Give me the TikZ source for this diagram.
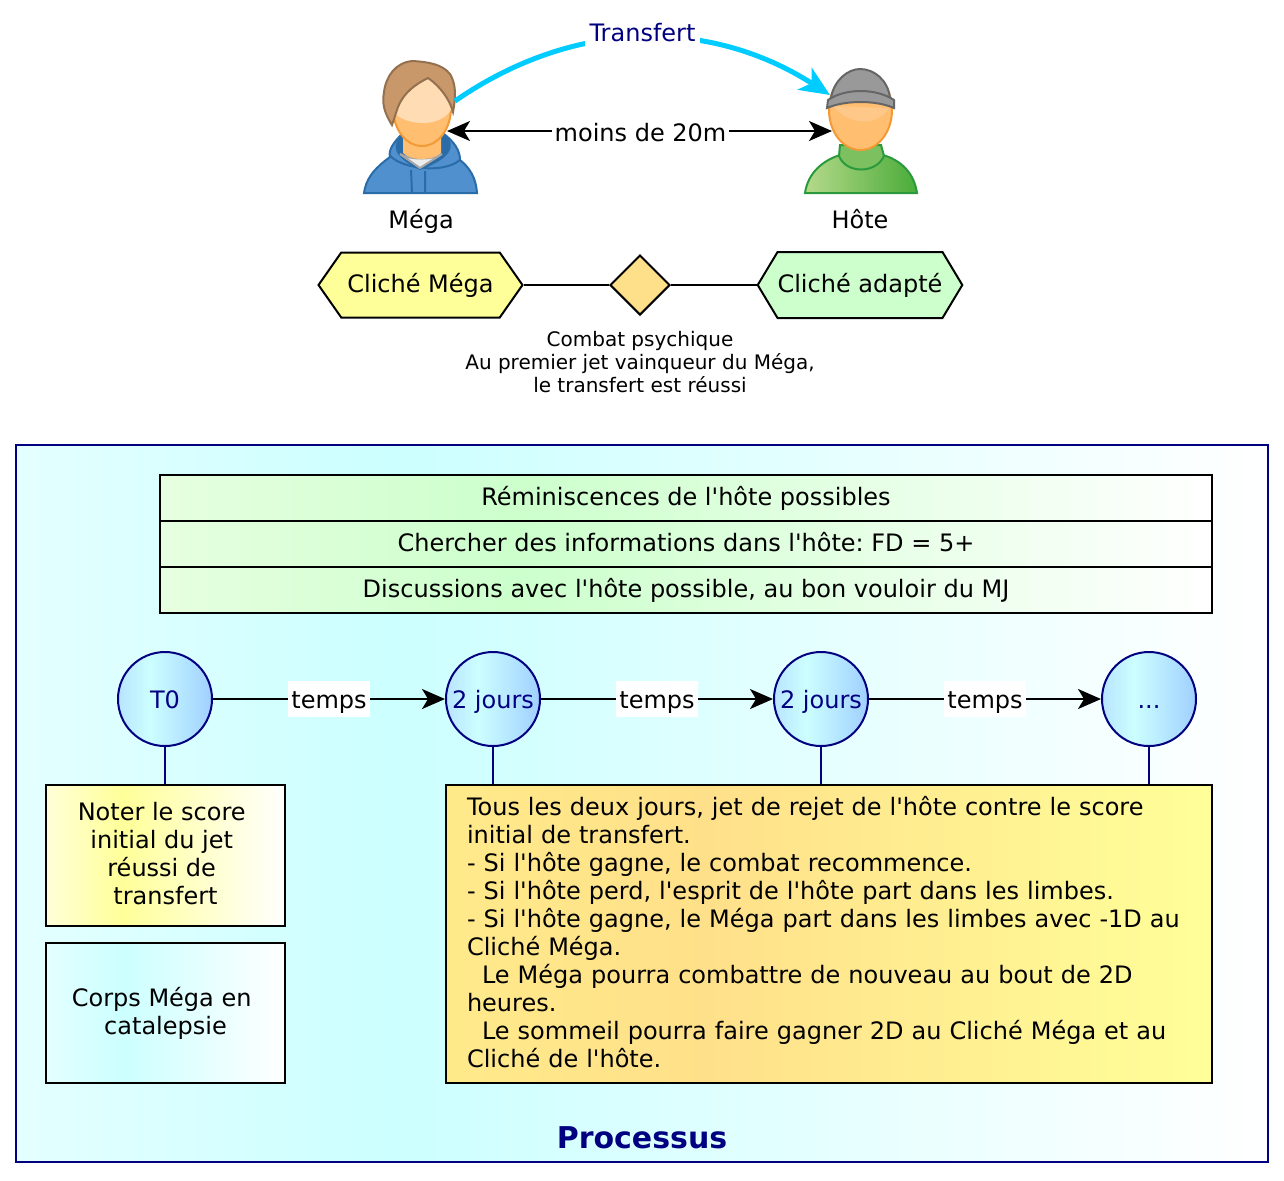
\documentclass[tikz,border=0pt]{standalone}
\usepackage{fontspec}
\setmainfont{DejaVu Sans}[Ligatures=TeXOff]
\frenchspacing
\usetikzlibrary{shapes.geometric, shapes.symbols, arrows.meta, positioning, calc}

\definecolor{navybleu}{HTML}{000080}
\definecolor{cyantrait}{HTML}{00CCFF}
\definecolor{fondcyan}{HTML}{CCFFFF}
\definecolor{fondclair}{HTML}{E4FFFF}
\definecolor{vertclair}{HTML}{CCFFCC}
\definecolor{vertpale}{HTML}{E6FFE0}
\definecolor{jaune}{HTML}{FFFF99}
\definecolor{jaunepale}{HTML}{FFFFD8}
\definecolor{ocre}{HTML}{FFE08A}
\definecolor{ocreclair}{HTML}{FFEA8A}
\definecolor{bleucercle}{HTML}{A0CFFF}
\definecolor{bleupale}{HTML}{B8E4FF}
\definecolor{pull}{HTML}{5090CE}
\definecolor{pullfonce}{HTML}{2A6CA8}
\definecolor{peau}{HTML}{FFBE70}
\definecolor{peauclair}{HTML}{FFDCB4}
\definecolor{peautrait}{HTML}{F29B36}
\definecolor{cheveux}{HTML}{C9986A}
\definecolor{cheveuxtrait}{HTML}{94714E}
\definecolor{vertgauche}{HTML}{B5D98A}
\definecolor{vertdroite}{HTML}{4AAC3A}
\definecolor{vertcol}{HTML}{7CC060}
\definecolor{vertfonce}{HTML}{2A9A3C}
\definecolor{bonnet}{HTML}{999999}
\definecolor{bonnettrait}{HTML}{666666}
\pgfdeclarehorizontalshading{fondprocessus}{100bp}{color(0bp)=(fondclair); color(25bp)=(fondclair); color(40bp)=(fondcyan); color(75bp)=(white); color(100bp)=(white)}
\pgfdeclarehorizontalshading{fondligne}{100bp}{color(0bp)=(vertpale); color(25bp)=(vertpale); color(42bp)=(vertclair); color(75bp)=(white); color(100bp)=(white)}
\pgfdeclarehorizontalshading{fondnote}{100bp}{color(0bp)=(jaunepale); color(25bp)=(jaunepale); color(41bp)=(jaune); color(75bp)=(white); color(100bp)=(white)}
\pgfdeclarehorizontalshading{fondcorps}{100bp}{color(0bp)=(fondclair); color(25bp)=(fondclair); color(41bp)=(fondcyan); color(75bp)=(white); color(100bp)=(white)}
\pgfdeclarehorizontalshading{fondregles}{100bp}{color(0bp)=(ocreclair); color(25bp)=(ocreclair); color(42bp)=(ocre); color(75bp)=(jaune); color(100bp)=(jaune)}
\pgfdeclarehorizontalshading{fondcercle}{100bp}{color(0bp)=(bleupale); color(25bp)=(bleupale); color(42bp)=(fondcyan); color(75bp)=(bleucercle); color(100bp)=(bleucercle)}

\begin{document}
\begin{tikzpicture}[
    x=0.5pt, y=-0.5pt,
    every node/.style={font=\fontsize{12}{14}\selectfont},
    cliche/.style={signal, signal to=west and east, signal pointer angle=110, draw, line width=1pt, minimum width=102pt, minimum height=32.5pt, inner sep=0pt},
    ligne/.style={rectangle, draw, line width=1pt, shade, shading=fondligne, minimum width=526pt, minimum height=23pt, inner sep=0pt, text height=9.5pt, text depth=2.5pt},
    etape/.style={circle, draw=navybleu, line width=1pt, shade, shading=fondcercle, text=navybleu, minimum size=47pt, inner sep=0pt, text height=9.5pt, text depth=0pt},
    boite/.style={rectangle, draw, line width=1pt, minimum width=119.5pt, minimum height=70pt, inner sep=0pt, align=center},
    etiquette/.style={fill=white, inner xsep=1.5pt, inner ysep=0pt, minimum height=18pt, text height=11pt, text depth=1.5pt},
    personne/.style={text height=9.5pt, text depth=2.5pt},
    fleche/.style={-{Stealth[length=11.5pt, width=10pt, inset=3pt]}, line width=1pt},
    lien/.style={draw=navybleu, line width=1pt}
]
    \useasboundingbox (0,0) rectangle (1284,1180);

    \fill[white] (0,0) rectangle (1284,1180);

    % Mega
    \draw[fill=pull, draw=pullfonce, line width=1pt] (364,193) .. controls (366,180) and (372,170) .. (390,157) .. controls (388,150) and (394,142) .. (402,134) -- (444,134) .. controls (454,142) and (460,150) .. (460,160) .. controls (470,168) and (476,178) .. (477,193) -- cycle;
    \fill[pullfonce] (401,135) .. controls (392,146) and (392,156) .. (420,170) .. controls (452,158) and (456,146) .. (446,135) -- cycle;
    \draw[pullfonce, line width=1pt] (390,155) .. controls (396,166) and (440,176) .. (460,160);
    \draw[pullfonce, line width=1pt] (411,170) -- (412,193) (425,171) -- (425,193);
    \draw[fill=black!7, draw=black!35, line width=1pt] (400,154) .. controls (410,160) and (432,160) .. (442,154) -- (420,168) -- cycle;
    \fill[peau] (403,130) -- (403,153) .. controls (412,161) and (432,161) .. (441,153) -- (441,130) -- cycle;
    \draw[fill=peau, draw=peautrait, line width=1pt] (422,108) ellipse [x radius=29, y radius=38];
    \fill[peauclair] (394,112) .. controls (402,124) and (438,130) .. (451,110) -- (446,85) -- (428,76) -- (404,90) -- cycle;
    \draw[fill=cheveux, draw=cheveuxtrait, line width=1pt] (392,125) .. controls (384,112) and (382,104) .. (384,92) .. controls (386,76) and (396,62) .. (413,61) .. controls (428,62) and (442,64) .. (450,74) .. controls (456,84) and (456,96) .. (453,112) .. controls (450,100) and (440,86) .. (428,78) .. controls (416,84) and (404,92) .. (398,107) -- cycle;

    % Hote
    \draw[left color=vertgauche, right color=vertdroite, draw=vertfonce, line width=1pt] (805,193) .. controls (808,172) and (824,160) .. (840,155) -- (883,155) .. controls (900,160) and (914,172) .. (917,193) -- cycle;
    \draw[fill=vertcol, draw=vertfonce, line width=1pt] (840,145) -- (839,156) .. controls (846,174) and (876,174) .. (884,156) -- (881,145) -- cycle;
    \draw[fill=peau, draw=peautrait, line width=1pt] (860.5,110) ellipse [x radius=31.5, y radius=40];
    \fill[peau!65!peauclair] (833,106) .. controls (845,122) and (875,130) .. (889,108) -- cycle;
    \draw[fill=bonnet, draw=bonnettrait, line width=1pt] (831,98) .. controls (834,80) and (848,69) .. (860,69) .. controls (874,69) and (888,80) .. (890,98) -- cycle;
    \draw[fill=bonnet, draw=bonnettrait, line width=1pt] (827,108) -- (828,100) .. controls (845,88) and (876,88) .. (894,100) -- (894,108) .. controls (876,100) and (845,100) .. (827,108) -- cycle;

    \coordinate (megaTete) at (447,131);
    \coordinate (hoteTete) at (832,131);
    \coordinate (megaTransfert) at (455,101);
    \coordinate (hoteTransfert) at (830,95);

    \draw[-{Stealth[length=15pt, width=13pt, inset=4pt]}, cyantrait, line width=2.5pt] (megaTransfert) .. controls (575,18) and (710,18) .. (hoteTransfert) node[pos=.5, yshift=2.5pt, fill=white, text=navybleu, inner xsep=2.5pt, inner ysep=0pt, minimum height=13pt] (transfert) {Transfert};
    \draw[{Stealth[length=11.5pt, width=10pt, inset=3pt]}-{Stealth[length=11.5pt, width=10pt, inset=3pt]}, line width=1pt] (megaTete) -- node[etiquette, text height=10.3pt, text depth=0pt, xshift=.5pt] (distance) {moins de 20m} (hoteTete);

    \node[personne] (mega) at (421,221) {Méga};
    \node[personne] (hote) at (860,221) {Hôte};

    \node[cliche, fill=jaune] (clicheMega) at (420.5,285) {Cliché Méga};
    \node[diamond, aspect=1, draw, line width=1pt, fill=ocre, minimum size=30pt, inner sep=0pt] (combat) at (640,285) {};
    \node[cliche, fill=vertclair, signal pointer angle=118, minimum height=33pt] (clicheHote) at (860,285) {Cliché adapté};
    \draw[line width=1pt] (clicheMega.east) -- (combat);
    \draw[line width=1pt] (combat) -- (clicheHote.west);
    \node[align=center, font=\fontsize{10}{11.5}\selectfont] (regleCombat) at (640,362) {Combat psychique\\Au premier jet vainqueur du Méga,\\le transfert est réussi};

    % Processus
    \node[rectangle, draw=navybleu, line width=1pt, shade, shading=fondprocessus, minimum width=626pt, minimum height=358.5pt, inner sep=0pt] (processus) at (642,803.5) {};
    \node[text=navybleu, font=\fontsize{15}{17}\selectfont\bfseries] (titre) at (642,1138) {Processus};

    \node[ligne] (reminiscences) at (686,498) {Réminiscences de l'hôte possibles};
    \node[ligne] (informations) at (686,544) {Chercher des informations dans l'hôte: FD = 5+};
    \node[ligne] (discussions) at (686,590) {Discussions avec l'hôte possible, au bon vouloir du MJ};

    \node[etape] (t0) at (165,699) {T0};
    \node[etape] (jourA) at (493,699) {2 jours};
    \node[etape] (jourB) at (821,699) {2 jours};
    \node[etape] (suite) at (1149,699) {...};

    \draw[fleche] (t0) -- node[etiquette] (tempsA) {temps} (jourA);
    \draw[fleche] (jourA) -- node[etiquette] (tempsB) {temps} (jourB);
    \draw[fleche] (jourB) -- node[etiquette] (tempsC) {temps} (suite);

    \node[boite, shade, shading=fondnote, minimum height=70.5pt, text depth=2pt] (noter) at (165.5,855.5) {Noter le score\kern3.8pt\\initial du jet\kern3.8pt\\réussi de\kern3.8pt\\transfert};
    \node[boite, shade, shading=fondcorps] (corps) at (165.5,1013) {Corps Méga en\kern3.8pt\\catalepsie};
    \node[boite, shade, shading=fondregles, minimum width=383pt, minimum height=149pt, inner xsep=10.5pt, text width=362pt, text depth=128pt, align=left] (regles) at (829,934) {Tous les deux jours, jet de rejet de l'hôte contre le score\\initial de transfert.\\- Si l'hôte gagne, le combat recommence.\\- Si l'hôte perd, l'esprit de l'hôte part dans les limbes.\\- Si l'hôte gagne, le Méga part dans les limbes avec -1D au\\Cliché Méga.\\\hspace*{7.5pt}Le Méga pourra combattre de nouveau au bout de 2D\\heures.\\\hspace*{7.5pt}Le sommeil pourra faire gagner 2D au Cliché Méga et au\\Cliché de l'hôte.};

    \draw[lien] (t0) -- (t0 |- noter.north);
    \draw[lien] (jourA) -- (jourA |- regles.north);
    \draw[lien] (jourB) -- (jourB |- regles.north);
    \draw[lien] (suite) -- (suite |- regles.north);
\end{tikzpicture}
\end{document}
